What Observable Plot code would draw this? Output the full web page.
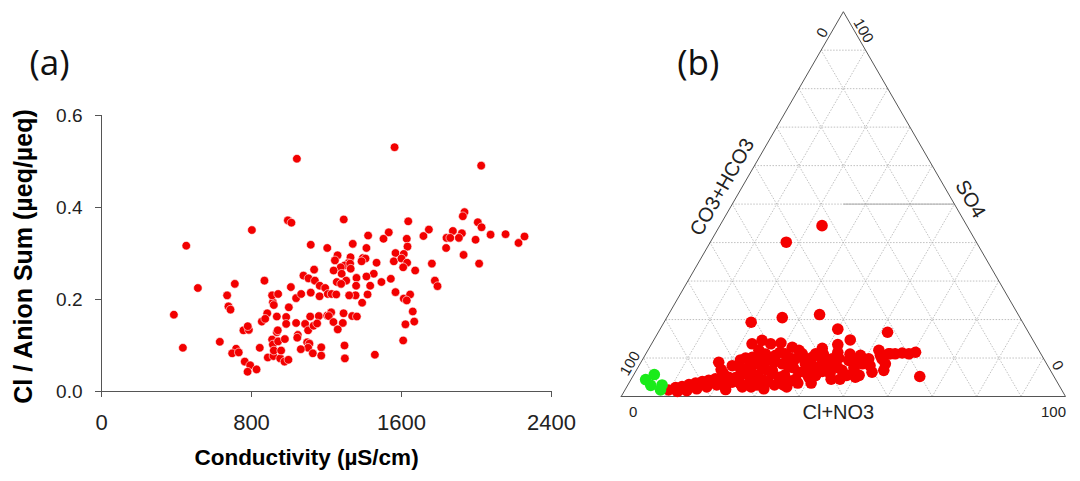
<!DOCTYPE html>
<html><head><meta charset="utf-8">
<script src="https://cdn.jsdelivr.net/npm/d3@7"></script>
<script src="https://cdn.jsdelivr.net/npm/@observablehq/plot@0.6"></script>
<style>
html,body{margin:0;padding:0;background:#fff}
#wrap{position:relative;width:1080px;height:481px;overflow:hidden}
#a,#b{position:absolute;top:0}
#a{left:0}
#b{left:600px}
</style></head><body>
<div id="wrap"><div id="a"></div><div id="b"></div></div>
<script>
// ---------- Panel (a) data ----------
const conductivity = [
1042,994,1013,802,452,1116,1204,514,711,869,670,677,688,386,434,631,718,697,732,764,793,779,827,757,786,780,855,884,873,844,887,917,953,976,997,910,914,942,919,958,978,935,940,935,985,985,999,914,919,910,942,1010,1038,1065,1077,1104,1134,1138,1116,1164,1163,1193,1207,1038,1086,1047,1044,1113,1159,1102,1131,1150,1097,1109,1102,1063,1127,1172,1172,1204,
1563,1292,1636,1422,1532,1504,1628,1632,1746,1717,1340,1413,1840,1838,1259,1245,1328,1316,1394,1408,1387,1296,1276,1326,1329,1238,1281,1467,1452,1413,1360,1305,1255,1278,1568,1559,1612,1600,1630,1609,1673,1543,1493,1762,1778,1792,1433,1358,1355,1321,1419,1390,1568,1612,1646,1628,1660,1668,1621,1609,1227,1252,1225,1212,1291,1337,1362,1237,1287,1260,1296,1298,1458,
2025,1936,1927,2007,2027,1874,1922,1860,1906,1995,2075,2155,2256,2224,1931,2014
];
const clAnionRatio = [
0.506,0.372,0.367,0.351,0.317,0.319,0.312,0.225,0.234,0.241,0.209,0.185,0.178,0.167,0.095,0.108,0.093,0.083,0.085,0.065,0.057,0.043,0.048,0.133,0.134,0.142,0.152,0.170,0.158,0.095,0.074,0.077,0.072,0.065,0.069,0.113,0.102,0.109,0.089,0.089,0.114,0.129,0.133,0.163,0.162,0.147,0.183,0.194,0.188,0.209,0.212,0.227,0.203,0.212,0.252,0.246,0.265,0.241,0.215,0.230,0.207,0.225,0.212,0.149,0.147,0.123,0.117,0.163,0.164,0.133,0.143,0.148,0.107,0.104,0.095,0.092,0.083,0.096,0.078,0.165,
0.531,0.374,0.370,0.339,0.346,0.332,0.332,0.315,0.352,0.338,0.321,0.312,0.334,0.312,0.296,0.285,0.292,0.279,0.290,0.289,0.283,0.274,0.270,0.278,0.267,0.263,0.256,0.280,0.256,0.250,0.247,0.241,0.238,0.234,0.301,0.283,0.299,0.289,0.280,0.270,0.263,0.245,0.238,0.278,0.241,0.229,0.230,0.230,0.209,0.209,0.211,0.193,0.216,0.202,0.211,0.198,0.174,0.152,0.146,0.111,0.212,0.211,0.172,0.164,0.170,0.164,0.163,0.151,0.149,0.135,0.100,0.072,0.080,
0.491,0.390,0.381,0.368,0.357,0.349,0.344,0.334,0.334,0.330,0.341,0.342,0.337,0.323,0.297,0.278
];
const xTicksA = [0, 800, 1600, 2400];
const yTicksA = [0, 0.2, 0.4, 0.6];
const xTitleA = "Conductivity (µS/cm)";
const yTitleA = "Cl / Anion Sum (µeq/µeq)";

// ---------- Panel (b) data (percent) ----------
const redClNO3 = [9.8,11.1,12.4,13.7,15.0,16.3,17.6,18.9,20.5,22.1,21.7,23.3,23.1,17.5,22.1,25.0,24.9,24.4,26.0,25.6,27.9,30.0,28.2,30.6,29.4,33.0,32.0,31.4,33.9,32.1,34.3,36.8,35.2,37.2,39.7,37.9,38.2,40.7,40.5,42.7,42.6,44.0,46.3,46.5,48.6,50.2,50.0,48.5,50.8,53.3,52.0,53.8,55.2,54.6,56.1,57.6,59.2,60.5,55.7,22.6,24.4,26.8,29.0,23.0,17.1,19.6,26.0,34.0,40.0,44.2,42.0,51.6,64.6,22.6,31.1,34.4,27,29,35,38,24,30,36,41,44,47,27,23,20,26,43,46,52,31,34,37,28,39,45,50.8,47.9,43.4,38.9,41.0,49.0,53.0,55.0,
19,21,23,25,27,29,31,33,35,36,38,40,42,44,45,33,25,28,30,34,39,41,36,48,20,18,16,14,12,26];
const redSO4 =    [1.7,2.3,2.6,3.1,3.5,3.9,4.2,4.6,4.3,2.9,5.0,4.9,3.7,8.9,9.5,5.9,7.6,10.2,8.5,10.7,7.6,4.2,9.4,6.8,10.7,5.0,8.5,11.1,7.6,12.8,9.8,6.3,11.1,8.5,5.0,10.2,11.1,7.6,9.4,8.1,9.8,8.5,6.8,9.4,7.6,5.0,8.5,10.7,9.8,6.3,12.0,9.8,8.5,11.1,11.1,11.3,11.1,11.5,6.8,13.7,14.6,13.7,13.9,44.4,40.1,19.3,20.5,21.3,17.5,14.7,13.5,16.7,5.2,1.8,2.0,3.7,4,3,3,3.5,6,9,10,5.5,6,4.5,11,7.5,6,2.5,11.5,11,8,6,5.5,4.5,5.5,8,7.5,5.5,8.9,8.9,5.9,5.5,6.8,10.7,11.1,
7,8,10,12,9.5,7,4,10,7.5,4,6.5,11,6.5,10,4.5,3,3.5,2.5,11.5,12,12.5,3.5,2.5,5.5,3,2.5,2,1.5,1.3,6.5];
const greenClNO3 = [3.3,4.6,5.2,7.7,8.0];
const greenSO4 =   [4.4,5.7,2.9,3.0,1.7];
const gridLevels = [10,20,30,40,50,60,70,80,90];
const bottomTitle = "Cl+NO3", leftTitle = "CO3+HCO3", rightTitle = "SO4";

// ---------- Panel (a) ----------
const ptsA = conductivity.map((c, i) => ({c, r: clAnionRatio[i]}));
const plotA = Plot.plot({
  width: 600, height: 481,
  marginLeft: 101, marginRight: 49, marginTop: 115, marginBottom: 90,
  x: {domain: [0, 2400]},
  y: {domain: [0, 0.6]},
  style: {fontFamily: "'Liberation Sans', Arial, sans-serif", color: "#222", background: "transparent"},
  marks: [
    Plot.ruleY([0], {x1: 0, x2: 2400, stroke: "#555"}),
    Plot.ruleX([0], {y1: 0, y2: 0.6, stroke: "#555"}),
    Plot.axisX({ticks: xTicksA, tickSize: 6, tickPadding: 17, fontSize: 22, label: null, tickFormat: d => String(d), stroke: "#555"}),
    Plot.axisY({ticks: yTicksA, tickSize: 6, tickPadding: 13, fontSize: 19, label: null, tickFormat: d => d.toFixed(1), stroke: "#555"}),
    Plot.dot(ptsA, {x: "c", y: "r", r: 4.3, fill: "#f20000", stroke: "#fff", strokeWidth: 0.6}),
    Plot.text([yTitleA], {x: () => 0, y: () => 0.3, dx: -78, dy: 3, rotate: -90, fontSize: 25, fontWeight: "bold", fill: "#000"}),
    Plot.text([xTitleA], {frameAnchor: "bottom", dx: -20, dy: 73, fontSize: 22.5, fontWeight: "bold", fill: "#000"}),
    Plot.text(["(a)"], {frameAnchor: "top-left", dx: -72, dy: -41, textAnchor: "start", lineAnchor: "bottom",
      fontSize: 35, fontFamily: "'Open Sans', sans-serif", fill: "#111"})
  ]
});
document.getElementById("a").appendChild(plotA);

// ---------- Panel (b) ----------
const S3 = Math.sqrt(3) / 2;
const tx = (cl, so4) => cl + so4 / 2;
const ty = (so4) => so4 * S3;

const red = redClNO3.map((c, i) => ({cl: c, so4: redSO4[i]}));
const green = greenClNO3.map((c, i) => ({cl: c, so4: greenSO4[i]}));

const grid = [];
for (const k of gridLevels) {
  grid.push({a: {cl: 0, so4: k}, b: {cl: 100 - k, so4: k}});          // SO4 = k
  grid.push({a: {cl: k, so4: 0}, b: {cl: k, so4: 100 - k}});          // Cl = k
  grid.push({a: {cl: 100 - k, so4: 0}, b: {cl: 0, so4: 100 - k}});    // HCO3 = k
}
const corners = [{cl: 0, so4: 0}, {cl: 100, so4: 0}, {cl: 0, so4: 100}, {cl: 0, so4: 0}];
const darkSeg = [{a: {cl: 25, so4: 50}, b: {cl: 50, so4: 50}}];

const lx1 = d => tx(d.a.cl, d.a.so4), ly1 = d => ty(d.a.so4), lx2 = d => tx(d.b.cl, d.b.so4), ly2 = d => ty(d.b.so4);

const labelFont = "'Liberation Sans', Arial, sans-serif";
const tickLabels = [
  {t: "0",   v: {cl: 0, so4: 0},   dx: 12,  dy: 16,  rot: 0},
  {t: "100", v: {cl: 100, so4: 0}, dx: -12, dy: 16,  rot: 0},
  {t: "100", v: {cl: 0, so4: 0},   dx: 9,   dy: -33, rot: -60},
  {t: "0",   v: {cl: 0, so4: 100}, dx: -21, dy: 21,  rot: -60},
  {t: "0",   v: {cl: 100, so4: 0}, dx: -8,  dy: -31, rot: 60},
  {t: "100", v: {cl: 0, so4: 100}, dx: 20,  dy: 19,  rot: 60}
];
const titles = [
  {t: bottomTitle, v: {cl: 50, so4: 0},  dx: -5,  dy: 16,  rot: 0},
  {t: leftTitle,   v: {cl: 0, so4: 50},  dx: -10, dy: -17, rot: -60},
  {t: rightTitle,  v: {cl: 50, so4: 50}, dx: 16,  dy: -5,  rot: 60}
];
const textMarks = (arr, size) => arr.map(d => Plot.text([d], {
  x: e => tx(e.v.cl, e.v.so4), y: e => ty(e.v.so4), text: "t",
  dx: d.dx, dy: d.dy, rotate: d.rot, fontSize: size, fill: "#222", fontFamily: labelFont
}));

const plotB = Plot.plot({
  width: 480, height: 481,
  marginLeft: 20.7, marginRight: 15, marginTop: 11.2, marginBottom: 85,
  x: {domain: [0, 100], axis: null},
  y: {domain: [0, 100 * S3], axis: null},
  style: {fontFamily: labelFont, background: "transparent"},
  marks: [
    Plot.link(grid, {x1: lx1, y1: ly1, x2: lx2, y2: ly2, stroke: "#b0b0b0", strokeWidth: 0.8, strokeDasharray: "1.5,1.5"}),
    Plot.link(darkSeg, {x1: lx1, y1: ly1, x2: lx2, y2: ly2, stroke: "#a8a8a8", strokeWidth: 1}),
    Plot.line(corners, {x: d => tx(d.cl, d.so4), y: d => ty(d.so4), stroke: "#555", strokeWidth: 1}),
    Plot.dot(red, {x: d => tx(d.cl, d.so4), y: d => ty(d.so4), r: 5.8, fill: "#f40000"}),
    Plot.dot(green, {x: d => tx(d.cl, d.so4), y: d => ty(d.so4), r: 5.8, fill: "#1aeb1a"}),
    ...textMarks(tickLabels, 15),
    ...textMarks(titles, 20),
    Plot.text(["(b)"], {frameAnchor: "top-left", dx: 56, dy: 63, textAnchor: "start", lineAnchor: "bottom",
      fontSize: 35, fontFamily: "'Open Sans', sans-serif", fill: "#111"})
  ]
});
document.getElementById("b").appendChild(plotB);
</script>
</body></html>
